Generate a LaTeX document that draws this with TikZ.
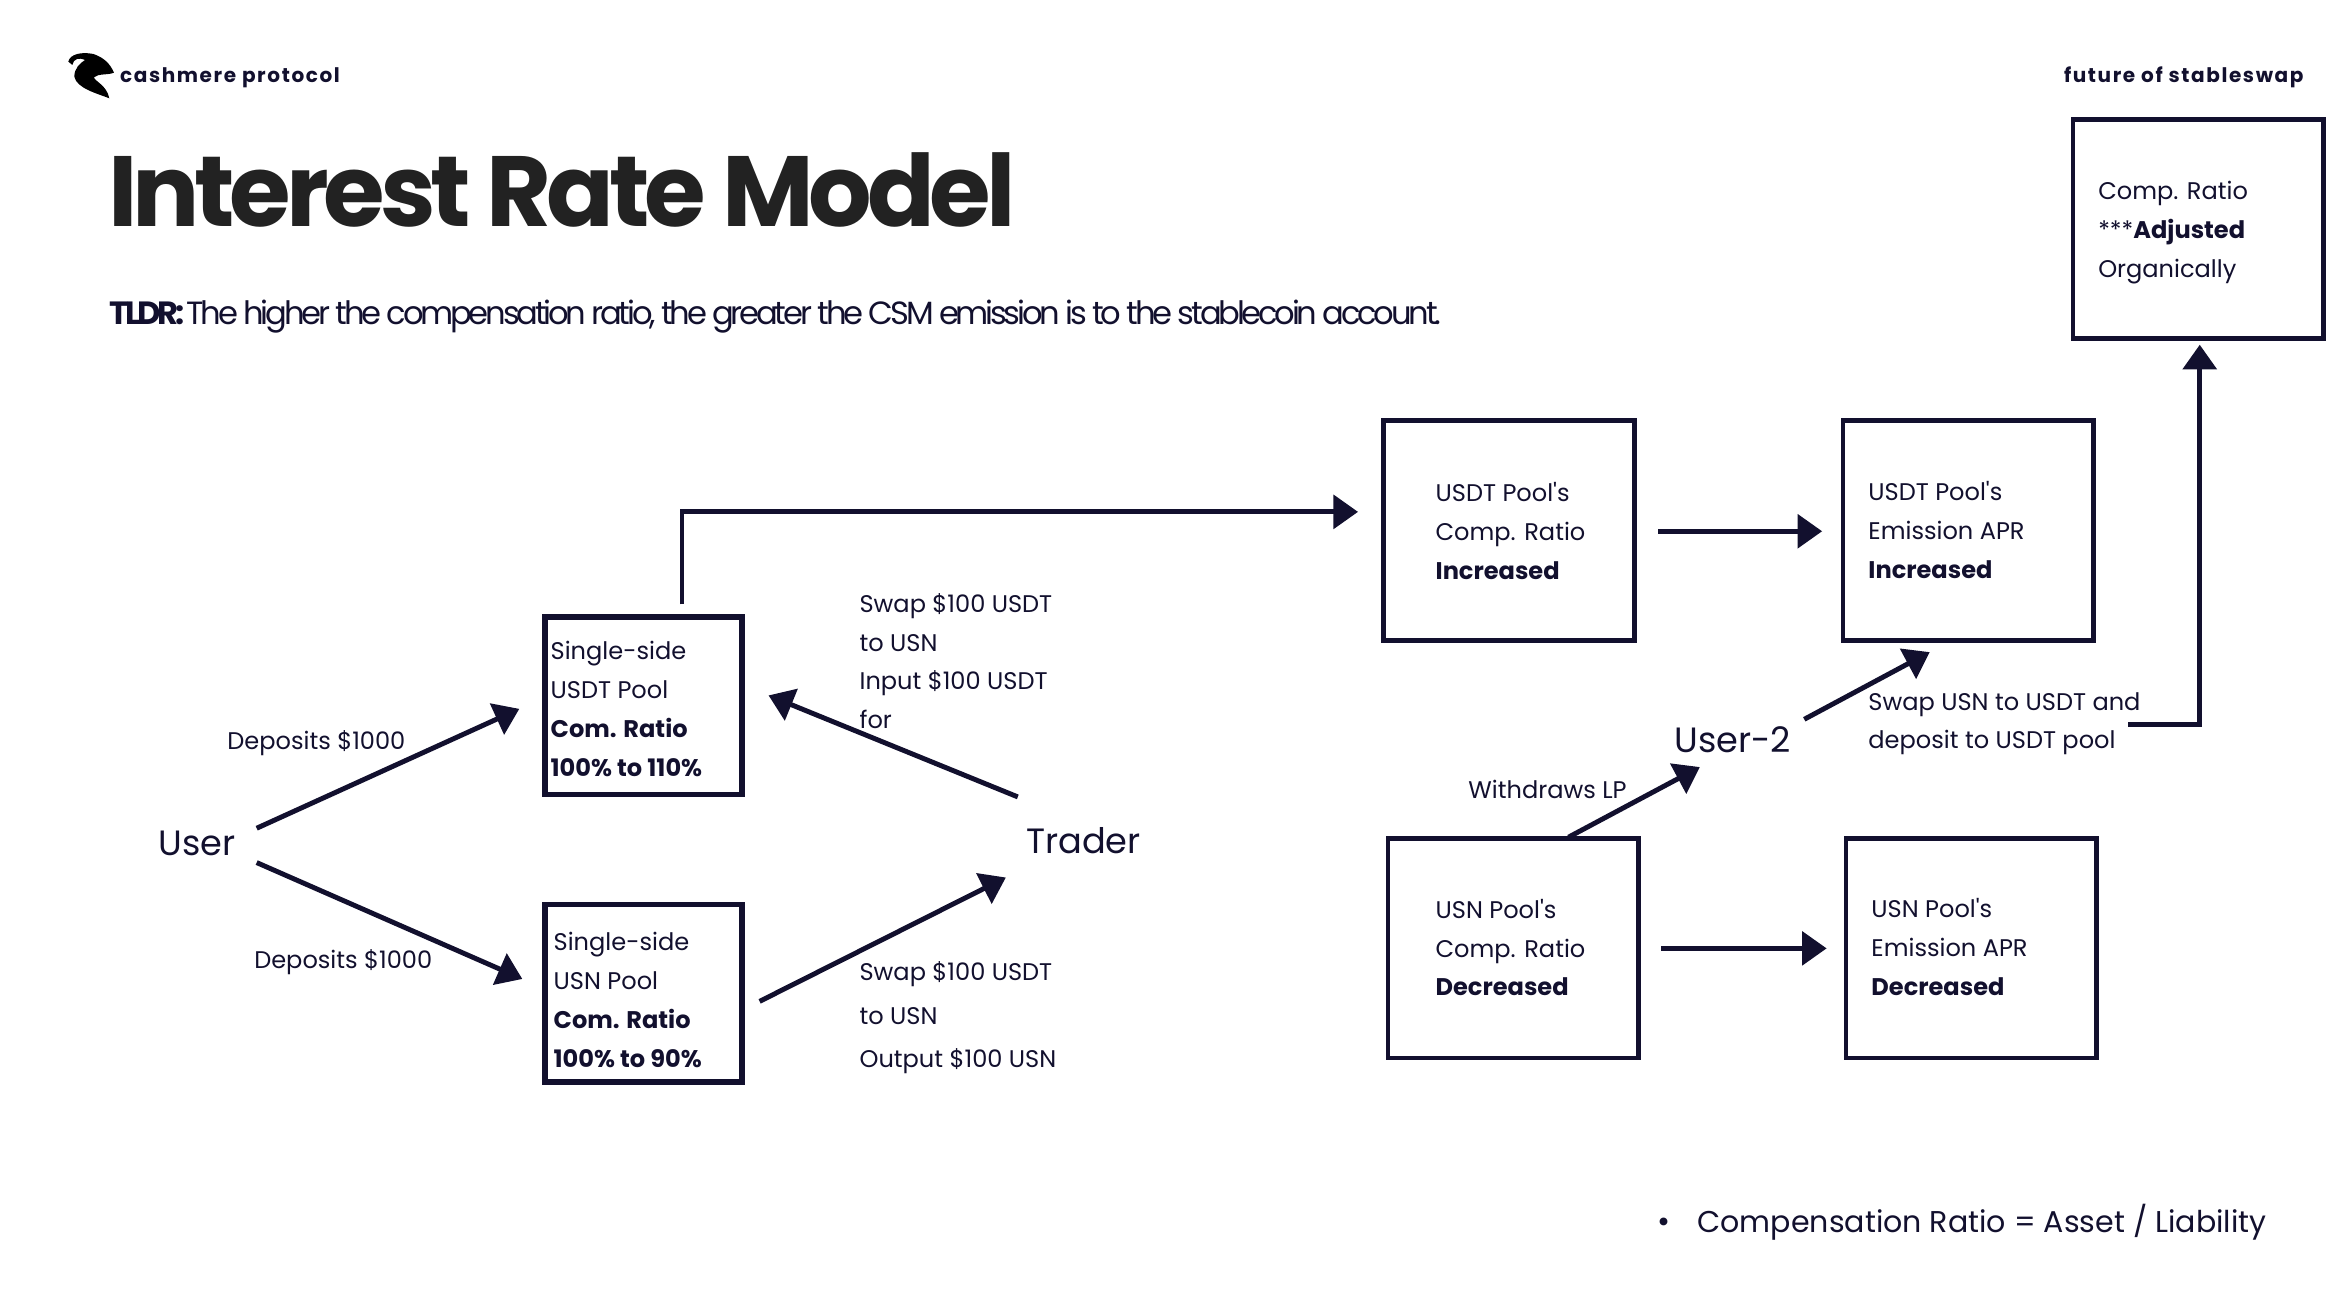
\documentclass[tikz,border=0pt]{standalone}
\usepackage{fontspec}
\usepackage{xcolor}
\setmainfont[Ligatures=TeXOff]{Poppins}
\newfontfamily\headfont[LetterSpace=-5.2]{Poppins}
\newfontfamily\tldrfont[LetterSpace=-10]{Poppins}
\newfontfamily\tagfont[LetterSpace=8]{Poppins}
\usetikzlibrary{arrows.meta}
\definecolor{ink}{HTML}{12102E}
\definecolor{headink}{HTML}{222222}
\tikzset{
    x=0.014923cm, y=-0.014923cm,
    bigbox/.style={draw=ink, line width=1.35pt, outer sep=0pt, minimum width=2.507cm, minimum height=2.194cm, inner sep=0pt},
    smallbox/.style={draw=ink, line width=1.6pt, outer sep=0pt, minimum width=1.97cm, minimum height=1.776cm, inner sep=0pt},
    boxtext/.style={anchor=west, align=left, inner sep=0pt, outer sep=0pt, text=ink, font=\fontsize{6.85}{11.05}\selectfont},
    actor/.style={anchor=center, inner sep=0pt, outer sep=0pt, text=ink, font=\fontsize{10}{12}\selectfont},
    flow/.style={draw=ink, line width=1.4pt, -{Triangle[length=7pt,width=9.5pt]}},
}
\begin{document}
\begin{tikzpicture}
        \useasboundingbox (0,0) rectangle (1568,877.8);

        % logo and header
        \begin{scope}[shift={(26.8,20.1)}, scale=0.2233]
            \fill[black] (85,95) .. controls (90,72) and (125,65) .. (160,72)
                .. controls (190,82) and (210,100) .. (222,128)
                .. controls (205,136) and (175,130) .. (162,142)
                .. controls (165,155) and (200,165) .. (208,205)
                .. controls (170,190) and (110,175) .. (103,140)
                .. controls (103,115) and (120,100) .. (135,90)
                .. controls (120,82) and (100,85) .. (97,105) -- cycle;
        \end{scope}
        \node (brand) [anchor=west, inner sep=0pt, text=ink, font=\tagfont\bfseries\fontsize{5.7}{8}\selectfont] at (80,52) {cashmere protocol};
        \node (tagline) [anchor=east, inner sep=0pt, text=ink, font=\tagfont\bfseries\fontsize{5.7}{8}\selectfont] at (1544,52) {future of stableswap};
        \node (title) [anchor=west, inner sep=0pt, text=headink, font=\headfont\bfseries\fontsize{28.4}{34}\selectfont] at (72,127) {Interest Rate Model};
        \node (tldr) [anchor=west, inner sep=0pt, text=ink, font=\tldrfont\fontsize{9.15}{12}\selectfont] at (73,212) {\textbf{TLDR:} The higher the compensation ratio, the greater the CSM emission is to the stablecoin account.};

        % boxes
        \node (adjusted) [bigbox] at (1473,153.5) {};
        \node (usdtcomp) [bigbox] at (1011,355.5) {};
        \node (usdtapr) [bigbox] at (1319,355.5) {};
        \node (usncomp) [bigbox] at (1014,635.5) {};
        \node (usnapr) [bigbox] at (1321,635.5) {};
        \node (usdtpool) [smallbox] at (431,473) {};
        \node (usnpool) [smallbox] at (431,665.5) {};

        % box texts
        \node (adjustedtext) [boxtext] at (1406,156) {Comp. Ratio\\***\textbf{Adjusted}\\Organically};
        \node (usdtcomptext) [boxtext] at (962,356) {USDT Pool's\\Comp. Ratio\\\textbf{Increased}};
        \node (usdtaprtext) [boxtext] at (1252,355) {USDT Pool's\\Emission APR\\\textbf{Increased}};
        \node (usncomptext) [boxtext] at (962,635) {USN Pool's\\Comp. Ratio\\\textbf{Decreased}};
        \node (usnaprtext) [boxtext] at (1254,634.5) {USN Pool's\\Emission APR\\\textbf{Decreased}};
        \node (usdtpooltext) [boxtext] at (369,475) {Single-side\\USDT Pool\\\textbf{Com. Ratio}\\\textbf{100\% to 110\%}};
        \node (usnpooltext) [boxtext] at (371,670) {Single-side\\USN Pool\\\textbf{Com. Ratio}\\\textbf{100\% to 90\%}};

        % labels
        \node (user) [actor] at (132,565) {User};
        \node (trader) [actor] at (726,563) {Trader};
        \node (usertwo) [actor] at (1161,496) {User-2};
        \node (depositone) [boxtext, anchor=center] at (212,498) {Deposits \$1000};
        \node (deposittwo) [boxtext, anchor=center] at (230,645) {Deposits \$1000};
        \node (swapup) [boxtext] at (576,443) {Swap \$100 USDT\\to USN\\Input \$100 USDT\\for};
        \node (swapdown) [boxtext, font=\fontsize{6.85}{12.3}\selectfont] at (576,682) {Swap \$100 USDT\\to USN\\Output \$100 USN};
        \node (withdraw) [boxtext, anchor=center] at (1037,529) {Withdraws LP};
        \node (swapback) [boxtext] at (1252,485) {Swap USN to USDT and\\deposit to USDT pool};
        \node (bullet) [anchor=center, inner sep=0pt, text=ink, font=\fontsize{9}{12}\selectfont] at (1115,821) {•};
        \node (ratio) [anchor=west, inner sep=0pt, text=ink, font=\fontsize{8.55}{12}\selectfont] at (1137,819) {Compensation Ratio = Asset / Liability};

        % connectors
        \draw[flow] ([shift={(40,-10)}]user.center) -- ([shift={(-83,2)}]usdtpool.center);
        \draw[flow] ([shift={(40,13)}]user.center) -- ([shift={(-81,-9.5)}]usnpool.center);
        \draw[flow] ([shift={(78,5.5)}]usnpool.center) -- ([shift={(-52,25)}]trader.center);
        \draw[flow] ([shift={(-44,-29)}]trader.center) -- ([shift={(84,-7)}]usdtpool.center);
        \draw[flow] ([shift={(26,-68)}]usdtpool.center) -- ([shift={(26,-130)}]usdtpool.center) -- ([shift={(-101,-12.5)}]usdtcomp.center);
        \draw[flow] ([shift={(100,.5)}]usdtcomp.center) -- ([shift={(-98,.5)}]usdtapr.center);
        \draw[flow] ([shift={(99,0)}]usncomp.center) -- ([shift={(-97,0)}]usnapr.center);
        \draw[flow] ([shift={(37,-74.5)}]usncomp.center) -- ([shift={(-22,18)}]usertwo.center);
        \draw[flow] ([shift={(48,-14)}]usertwo.center) -- ([shift={(-26,81.5)}]usdtapr.center);
        \draw[flow] ([shift={(174,.5)}]swapback.west) -- ([shift={(1,332)}]adjusted.center) -- ([shift={(1,77.5)}]adjusted.center);
\end{tikzpicture}
\end{document}
